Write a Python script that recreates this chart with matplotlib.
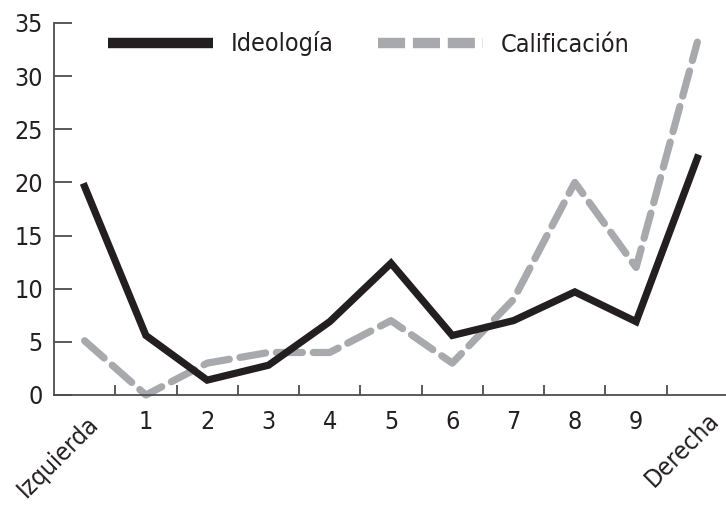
import matplotlib
matplotlib.use("Agg")
import matplotlib.pyplot as plt
from matplotlib.lines import Line2D

plt.rcParams['font.family'] = ['DejaVu Sans']
plt.rcParams['font.stretch'] = 'condensed'

categories = ["Izquierda", "1", "2", "3", "4", "5", "6", "7", "8", "9", "Derecha"]
ideologia = [19.6, 5.6, 1.4, 2.8, 6.9, 12.4, 5.6, 7.0, 9.7, 6.9, 22.3]
calificacion = [5.1, 0.0, 3.0, 4.0, 4.0, 7.0, 3.0, 9.0, 20.0, 12.0, 33.2]
yticks = [0, 5, 10, 15, 20, 25, 30, 35]

txt = '#231f20'
ax_col = '#4d4d4f'
grey = '#a7a9ac'
FS = 18

fig = plt.figure(figsize=(7.26, 5.13), dpi=100)
ax = fig.add_axes([54/726, 1-395/513, 674/726, (395-23)/513])
x = list(range(len(categories)))
ax.plot(x, ideologia, color='#231f20', lw=5.2, solid_joinstyle='miter', clip_on=False, zorder=3)
ax.plot(x, calificacion, color=grey, lw=5.2, dashes=(3.6, 1.5), dash_capstyle='round',
        clip_on=False, zorder=2)

ax.set_xlim(-0.5, 10.5)
ax.set_ylim(0, 35)
for s in ['top', 'right']:
    ax.spines[s].set_visible(False)
for s in ['left', 'bottom']:
    ax.spines[s].set_color(ax_col)
    ax.spines[s].set_linewidth(1.3)

ax.set_yticks(yticks)
ax.set_yticklabels([str(v) for v in yticks])
ax.tick_params(axis='y', direction='in', length=13, width=1.3, color=ax_col,
               labelsize=FS, labelcolor=txt, pad=8)
ax.set_xticks(x)
ax.set_xticklabels([c if 0 < i < len(categories) - 1 else '' for i, c in enumerate(categories)])
ax.set_xticks([i + 0.5 for i in x[:-1]], minor=True)
ax.tick_params(axis='x', which='major', length=0, labelsize=FS, labelcolor=txt, pad=11)
ax.tick_params(axis='x', which='minor', direction='in', length=7, width=1.3, color=ax_col)

# rotated end labels
for i, off in ((0, (10, -25)), (len(categories) - 1, (18, -21))):
    ax.annotate(categories[i], xy=(x[i], 0), xycoords=('data', 'axes fraction'),
                xytext=off, textcoords='offset pixels', rotation=45,
                rotation_mode='anchor', ha='right', va='center',
                fontsize=FS, color=txt, annotation_clip=False)

handles = [Line2D([], [], color='#231f20', lw=7.5, solid_capstyle='butt'),
           Line2D([], [], color=grey, lw=7.5, dashes=(2.6, 0.75), dash_capstyle='butt')]
leg = ax.legend(handles, ['Ideología', 'Calificación'], ncol=2, frameon=False,
                loc='center left', bbox_to_anchor=(54/674, 1-21/372),
                handlelength=4.2, handletextpad=0.7, columnspacing=1.8,
                fontsize=FS, borderaxespad=0, borderpad=0)
for t in leg.get_texts():
    t.set_color(txt)

fig.savefig('out.png', dpi=100)
